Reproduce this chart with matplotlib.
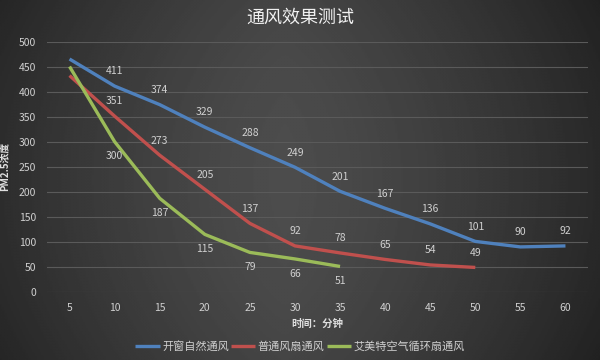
import numpy as np
import matplotlib.pyplot as plt

plt.rcParams['font.family'] = ['Noto Sans CJK SC', 'DejaVu Sans']

minutes = [5, 10, 15, 20, 25, 30, 35, 40, 45, 50, 55, 60]
window = [465, 411, 374, 329, 288, 249, 201, 167, 136, 101, 90, 92]
fan = [432, 351, 273, 205, 137, 92, 78, 65, 54, 49]
cycle_fan = [450, 300, 187, 115, 79, 66, 51]
names = ["开窗自然通风", "普通风扇通风", "艾美特空气循环扇通风"]
colors = ["#4f81bd", "#c0504d", "#9bbb59"]
label_offsets = [7, 7, -7]

fig = plt.figure(figsize=(6, 3.6), dpi=100)

# dark background, brighter in the middle
bg = fig.add_axes([0, 0, 1, 1], zorder=-10)
xx = np.linspace(-1, 1, 400)
yy = np.linspace(-1, 1, 240)
X, Y = np.meshgrid(xx, yy)
shade = 0.30 - 0.13 * np.abs(X + 0.05) ** 1.3 - 0.03 * Y ** 2
bg.imshow(shade, cmap="gray", vmin=0, vmax=1, aspect="auto", extent=[0, 1, 0, 1])
bg.set_axis_off()

ax = fig.add_axes([47 / 600, 1 - 292 / 360, 541 / 600, 250.5 / 360])
ax.patch.set_alpha(0)

pos = np.arange(len(minutes))
for vals, name, color, off in zip([window, fan, cycle_fan], names, colors, label_offsets):
    x = pos[:len(vals)]
    ax.plot(x, vals, color=color, lw=2.4, label=name, solid_capstyle="butt")
    for i, v in enumerate(vals):
        if i == 0:
            continue
        ax.annotate(str(v), (x[i], v), xytext=(0, off), textcoords="offset points",
                    ha="center", va="bottom" if off > 0 else "top",
                    fontsize=7.5, color="#d0d0d0")

ax.set_xlim(-0.5, len(minutes) - 0.5)
ax.set_ylim(0, 500)
ax.set_yticks(range(0, 501, 50))
ax.set_xticks(pos)
ax.set_xticklabels([str(m) for m in minutes])
ax.grid(axis="y", color="#5a5a5a", lw=0.8)
ax.set_axisbelow(True)
for s in ax.spines.values():
    s.set_visible(False)
ax.tick_params(length=0, colors="#d0d0d0", labelsize=7.5, pad=8)

ax.set_xlabel("时间：分钟", color="#e0e0e0", fontsize=7.5, fontweight="bold", labelpad=4)
ax.set_ylabel("PM2.5浓度", color="#e0e0e0", fontsize=7, fontweight="bold", labelpad=6)

fig.text(0.5, 1 - 18 / 360, "通风效果测试", ha="center", va="center",
         fontsize=13, color="#f0f0f0")

leg = fig.legend(loc="center", bbox_to_anchor=(0.5, 1 - 346 / 360), ncol=3,
                 frameon=False, fontsize=8, handlelength=2.2, columnspacing=0.2,
                 handletextpad=0.2)
for t in leg.get_texts():
    t.set_color("#d0d0d0")

fig.savefig("out.png", dpi=100)
